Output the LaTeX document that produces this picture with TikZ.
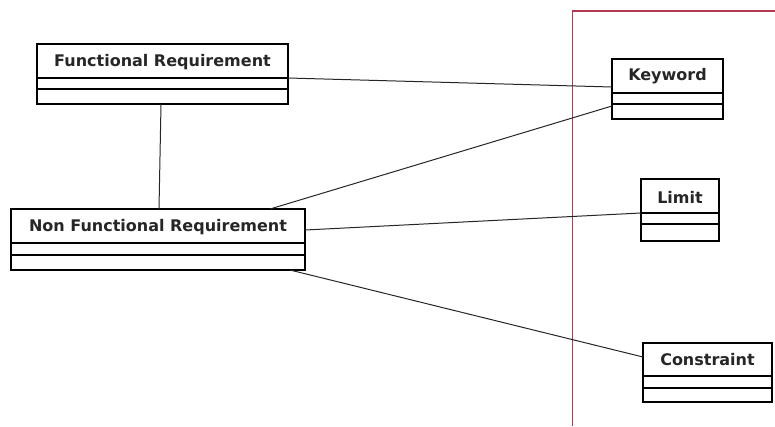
\documentclass[tikz,border=0pt]{standalone}
\usepackage{fontspec}
\setmainfont{DejaVu Sans}
\definecolor{frame}{HTML}{B03A50}
\begin{document}
\begin{tikzpicture}[x=1pt,y=-1pt,
  cls/.style={draw,line width=2.2pt},
  div/.style={line width=1.1pt},
  lbl/.style={font=\bfseries\fontsize{16}{18}\selectfont,inner sep=0pt,text=black!85},
  conn/.style={line width=1pt,black!85}]
\useasboundingbox (0,0) rectangle (775,426);
% frame
\draw[frame,line width=1.2pt] (775,11) -- (572.5,11) -- (572.5,426);
% Functional Requirement
\draw[cls] (37,44) rectangle (288,104);
\draw[div] (37,78) -- (288,78) (37,89) -- (288,89);
\node[lbl] (fr) at (162.5,62) {Functional Requirement};
\coordinate (frR) at (288,78);
\coordinate (frB) at (161,104);
% Non Functional Requirement
\draw[cls] (11,209) rectangle (305,270);
\draw[div] (11,243) -- (305,243) (11,255) -- (305,255);
\node[lbl] (nfr) at (158,227) {Non Functional Requirement};
\coordinate (nfrT) at (159,209);
\coordinate (nfrTR) at (270,209);
\coordinate (nfrR) at (305,230);
\coordinate (nfrBR) at (290,270);
% Keyword
\draw[cls] (612,59) rectangle (723,119);
\draw[div] (612,93) -- (723,93) (612,104) -- (723,104);
\node[lbl] (kw) at (667.5,76) {Keyword};
\coordinate (kwL1) at (612,87);
\coordinate (kwL2) at (612,106);
% Limit
\draw[cls] (641,179) rectangle (719,241);
\draw[div] (641,213) -- (719,213) (641,224) -- (719,224);
\node[lbl] (lim) at (680,197) {Limit};
\coordinate (limL) at (641,213);
% Constraint
\draw[cls] (643,343) rectangle (772,402);
\draw[div] (643,376) -- (772,376) (643,388) -- (772,388);
\node[lbl] (con) at (707.5,360) {Constraint};
\coordinate (conL) at (643,357);
% connectors
\draw[conn] (frR) -- (kwL1);
\draw[conn] (frB) -- (nfrT);
\draw[conn] (nfrTR) -- (kwL2);
\draw[conn] (nfrR) -- (limL);
\draw[conn] (nfrBR) -- (conL);
\end{tikzpicture}
\end{document}
